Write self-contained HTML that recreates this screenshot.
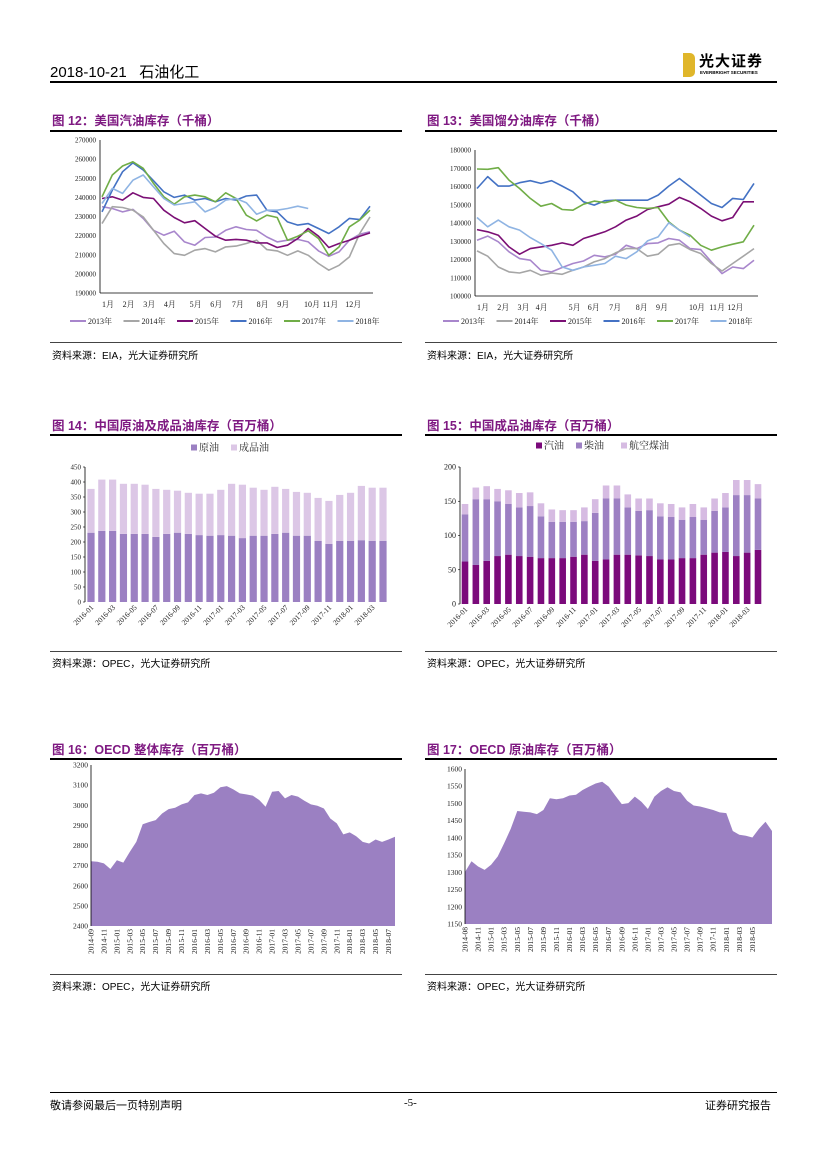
<!DOCTYPE html>
<html><head><meta charset="utf-8">
<style>
html,body{margin:0;padding:0;background:#fff;}
#page{position:relative;width:827px;height:1169px;overflow:hidden;font-family:"Liberation Sans","Noto Sans CJK SC",sans-serif;color:#000;}
.abs{position:absolute;white-space:nowrap;}
.ttl{font-size:12.5px;font-weight:bold;color:#7f1a82;font-family:"Liberation Sans","Noto Sans CJK SC",sans-serif;}
.rule{position:absolute;height:1.5px;background:#000;}
.thin{position:absolute;height:1px;background:#444;}
.src{font-size:10px;}
svg text{font-family:"Liberation Serif","Noto Serif CJK SC",serif;}
</style></head>
<body>
<div id="page">
  <div class="abs" style="left:50px;top:61px;font-size:15px;">2018-10-21&nbsp;&nbsp;&nbsp;石油化工</div>
  <div class="abs" style="left:50px;top:81px;width:727px;height:2px;background:#000;"></div>
  <div class="abs" style="left:683px;top:53px;width:12px;height:24px;background:#e0b62a;border-radius:0 5px 5px 0;"></div>
  <div class="abs" style="left:699px;top:50px;font-size:15px;font-weight:bold;letter-spacing:1px;">光大证券</div>
  <div class="abs" style="left:700px;top:70px;font-size:4.5px;font-weight:bold;">EVERBRIGHT SECURITIES</div>

  <div class="abs ttl" style="left:52px;top:110px;">图 12：美国汽油库存（千桶）</div>
  <div class="rule" style="left:50px;top:130px;width:352px;"></div>
  <div class="abs ttl" style="left:427px;top:110px;">图 13：美国馏分油库存（千桶）</div>
  <div class="rule" style="left:425px;top:130px;width:352px;"></div>
  <div class="thin" style="left:50px;top:342px;width:352px;"></div>
  <div class="thin" style="left:425px;top:342px;width:352px;"></div>
  <div class="abs src" style="left:52px;top:347px;">资料来源：EIA，光大证券研究所</div>
  <div class="abs src" style="left:427px;top:347px;">资料来源：EIA，光大证券研究所</div>

  <div class="abs ttl" style="left:52px;top:415px;">图 14：中国原油及成品油库存（百万桶）</div>
  <div class="rule" style="left:50px;top:434px;width:352px;"></div>
  <div class="abs ttl" style="left:427px;top:415px;">图 15：中国成品油库存（百万桶）</div>
  <div class="rule" style="left:425px;top:434px;width:352px;"></div>
  <div class="thin" style="left:50px;top:651px;width:352px;"></div>
  <div class="thin" style="left:425px;top:651px;width:352px;"></div>
  <div class="abs src" style="left:52px;top:655px;">资料来源：OPEC，光大证券研究所</div>
  <div class="abs src" style="left:427px;top:655px;">资料来源：OPEC，光大证券研究所</div>

  <div class="abs ttl" style="left:52px;top:739px;">图 16：OECD 整体库存（百万桶）</div>
  <div class="rule" style="left:50px;top:758px;width:352px;"></div>
  <div class="abs ttl" style="left:427px;top:739px;">图 17：OECD 原油库存（百万桶）</div>
  <div class="rule" style="left:425px;top:758px;width:352px;"></div>
  <div class="thin" style="left:50px;top:974px;width:352px;"></div>
  <div class="thin" style="left:425px;top:974px;width:352px;"></div>
  <div class="abs src" style="left:52px;top:978px;">资料来源：OPEC，光大证券研究所</div>
  <div class="abs src" style="left:427px;top:978px;">资料来源：OPEC，光大证券研究所</div>

  <div class="abs" style="left:50px;top:1092px;width:727px;height:1px;background:#000;"></div>
  <div class="abs" style="left:50px;top:1097px;font-size:11px;">敬请参阅最后一页特别声明</div>
  <div class="abs" style="left:404px;top:1097px;font-size:11px;font-family:'Liberation Serif',serif;">-5-</div>
  <div class="abs" style="left:705px;top:1097px;font-size:11px;">证券研究报告</div>

  <svg id="charts" width="827" height="1169" style="position:absolute;left:0;top:0;"></svg>
</div>
<script>
const g12Y2013 = [235.1,234.2,232.4,233.7,229,222.8,220.2,222.3,216.7,215,219,219.3,222.8,224.6,223.2,222.8,219.3,216.7,217.6,218,216.7,212,209.2,211.5,217.6,220.7,222];
const g12Y2014 = [226.3,235.1,234.7,233.3,229.8,222.8,215.9,210.6,209.7,212.4,213.2,211.5,214.1,214.5,215.9,217.6,212.7,212,209.7,212,209.7,205.4,201.9,204.5,208.9,221.1,229.8];
const g12Y2015 = [239.4,240.3,238.6,242.4,240,239.4,233.3,229.5,226.7,227.8,223.7,219.7,217.6,218,217.6,216.2,216.2,213.8,215,218.5,223.7,219.7,213.8,215.9,217.6,219.7,221.4];
const g12Y2016 = [232.4,243.8,253.4,258.1,254.3,248.7,242.9,240,241.2,238.6,239.4,237.7,239.4,238.6,240.7,241.2,233.3,232.4,227.2,225.5,226.3,223.7,221.1,224.6,229,228.4,235.4];
const g12Y2017 = [240.3,251.7,256.4,258.6,255.2,247.3,240.3,236.5,240.3,241.2,240.3,237.7,242.4,239.4,230.7,227.7,230.7,229.5,217.6,219.7,222.5,218.5,209.7,214.1,224.6,228.1,233.3];
const g12Y2018 = [236.8,244.7,242.1,249,251.7,245.5,239.4,236,236.8,237.7,232.4,234.7,238.6,239.4,237.2,231.2,233.3,233.3,234.2,235.4,234.2];
const g12Ticks = [190,200,210,220,230,240,250,260,270];
const g12TickLabels = ['190000','200000','210000','220000','230000','240000','250000','260000','270000'];
const g12Months = ['1月','2月','3月','4月','5月','6月','7月','8月','9月','10月','11月','12月'];
const g12MonthIdx = [0,2,4,6,8.5,10.5,12.6,15,17,19.6,21.4,23.6];

const g13Y2013 = [130.6,132.8,129.7,124.2,120.5,119.6,114.1,113.2,115.6,117.8,119.2,122.3,121.4,122.9,127.8,126,128.7,129.1,131.5,130.6,126,125.4,118.7,112.3,115.9,115,119.6];
const g13Y2014 = [124.7,121.8,115.9,113.2,112.6,114.1,111.4,112.6,111.9,114.1,115.9,118.7,120.5,123.6,126,126,121.8,122.9,127.8,128.7,125.4,123.3,117.8,113.7,117.8,121.8,126];
const g13Y2015 = [136.4,135.2,133.3,126.9,122.9,126,126.9,127.8,129.1,127.8,131.5,133.3,135.2,137.9,141.6,143.8,147.4,148.9,150.3,154,151.6,148,143.8,141.2,143,151.6,151.6];
const g13Y2016 = [158.9,165.4,160.2,160.2,162.1,163.2,161.7,163.2,160.2,157.1,151.6,149.8,152.2,152.5,152.5,152.5,152.5,155.3,160.2,164.4,159.9,155.3,150.7,148.5,153.5,152.9,161.7];
const g13Y2017 = [169.6,169.4,170.3,163.5,158.9,153.5,149.2,150.7,147.4,147,150.3,152,151.1,152.5,149.8,148.5,148,148.5,140.6,136.1,133.3,127.8,125.1,126.9,128.4,129.7,138.8];
const g13Y2018 = [143,137.9,141.6,137.9,136.1,132,128.7,125.1,115.9,114.1,115.9,116.8,117.8,121.8,120.5,124.2,130.2,132.4,140.1,136.1,132.4];
const g13Ticks = [100,110,120,130,140,150,160,170,180];
const g13TickLabels = ['100000','110000','120000','130000','140000','150000','160000','170000','180000'];
const g13Months = ['1月','2月','3月','4月','5月','6月','7月','8月','9月','10月','11月','12月'];
const g13MonthIdx = [0,1.9,3.8,5.5,8.6,10.4,12.4,14.9,16.8,19.9,21.8,23.5];
const yearNames = ['2013年','2014年','2015年','2016年','2017年','2018年'];

const f14Months = ['2016-01','2016-02','2016-03','2016-04','2016-05','2016-06','2016-07','2016-08','2016-09','2016-10','2016-11','2016-12','2017-01','2017-02','2017-03','2017-04','2017-05','2017-06','2017-07','2017-08','2017-09','2017-10','2017-11','2017-12','2018-01','2018-02','2018-03','2018-04'];
const f14Crude = [231,237,237,227,227,227,217,227,231,227,223,221,223,221,213,221,221,227,231,221,221,204,194,204,204,206,204,204];
const f14Product = [146,171,171,167,167,164,160,147,140,137,138,140,151,173,178,160,153,157,146,146,143,143,143,153,160,181,177,177];
const f14Ticks = [0,50,100,150,200,250,300,350,400,450];

const f15Months = f14Months.slice();
const f15Gasoline = [62,57,63,70,72,70,69,67,67,67,69,72,63,65,72,72,71,70,65,65,67,67,72,75,76,70,75,79];
const f15Diesel = [69,96,90,80,74,71,74,61,53,53,51,49,70,89,82,69,65,67,63,62,56,60,51,61,65,89,84,75];
const f15Jet = [15,17,19,18,20,21,20,19,18,17,17,20,20,19,19,19,18,17,19,19,18,19,18,18,21,22,22,21];
const f15Ticks = [0,50,100,150,200];

const f16Values = [2722,2719,2711,2683,2727,2715,2768,2818,2906,2917,2926,2959,2981,2988,3004,3014,3051,3059,3051,3062,3089,3095,3079,3059,3054,3048,3026,2993,3067,3071,3034,3051,3043,3022,3004,2998,2984,2934,2910,2855,2865,2846,2818,2810,2830,2818,2830,2843];
const f16Labels = ['2014-09','2014-11','2015-01','2015-03','2015-05','2015-07','2015-09','2015-11','2016-01','2016-03','2016-05','2016-07','2016-09','2016-11','2017-01','2017-03','2017-05','2017-07','2017-09','2017-11','2018-01','2018-03','2018-05','2018-07'];
const f16Ticks = [2400,2500,2600,2700,2800,2900,3000,3100,3200];

const f17Values = [1301,1332,1317,1307,1322,1346,1385,1426,1478,1476,1474,1469,1481,1515,1512,1515,1523,1525,1539,1549,1558,1563,1549,1523,1498,1501,1520,1505,1484,1520,1536,1547,1536,1532,1508,1494,1491,1486,1481,1474,1472,1420,1409,1406,1401,1426,1447,1420];
const f17Labels = ['2014-08','2014-11','2015-01','2015-03','2015-05','2015-07','2015-09','2015-11','2016-01','2016-03','2016-05','2016-07','2016-09','2016-11','2017-01','2017-03','2017-05','2017-07','2017-09','2017-11','2018-01','2018-03','2018-05'];
const f17Ticks = [1150,1200,1250,1300,1350,1400,1450,1500,1550,1600];

const NS='http://www.w3.org/2000/svg';
const svg=document.getElementById('charts');
function mk(tag, attrs, parent){
  const e=document.createElementNS(NS,tag);
  for(const k in attrs) e.setAttribute(k,attrs[k]);
  (parent||svg).appendChild(e);
  return e;
}
function scale(d0,d1,r0,r1){return v=>r0+(v-d0)*(r1-r0)/(d1-d0);}

function lineChart(id, box, ticks, tickLabels, months, monthIdx, series, colors, legendX){
  const g=mk('g',{});
  
  
  const y=scale(ticks[0],ticks[ticks.length-1],box.yb,box.yt);
  const x=scale(0,26,box.px0,box.px1);
  const ax=mk('line',{x1:box.ax,y1:box.yt,x2:box.ax,y2:box.yb,stroke:'#000','stroke-width':0.8},g);
  
  
  const bx=mk('line',{x1:box.ax,y1:box.yb,x2:box.xr,y2:box.yb,stroke:'#000','stroke-width':0.8},g);
  
  
  ticks.forEach((t,i)=>{
    const tl=mk('text',{x:box.ax-4,y:y(t)+2.5,'font-size':7,'text-anchor':'end',fill:'#222'},g);
    tl.textContent=tickLabels[i];
    
    
  });
  months.forEach((m,i)=>{
    const ml=mk('text',{x:x(monthIdx[i]),y:box.yb+14,'font-size':8,'text-anchor':'start',fill:'#222'},g);
    ml.textContent=m;
    
    
  });
  series.forEach((s,si)=>{
    const pts=s.map((v,i)=>x(i).toFixed(1)+','+y(v).toFixed(1)).join(' ');
    const pl=mk('polyline',{points:pts,fill:'none',stroke:colors[si],'stroke-width':1.6,'stroke-linejoin':'round'},g);
    
    
    const lx=legendX+si*53.5;
    const ll=mk('line',{x1:lx,y1:box.leg,x2:lx+16,y2:box.leg,stroke:colors[si],'stroke-width':2},g);
    
    
    const lt=mk('text',{x:lx+18,y:box.leg+3,'font-size':8,fill:'#222'},g);
    lt.textContent=yearNames[si];
    
    
  });
}
const lineColors=['#a886cc','#a6a6a6','#7b0f75','#4472c4','#70ad47','#8fb4e3'];
lineChart('fig12',{ax:100,xr:373,yt:140,yb:293,px0:102,px1:370,leg:321},g12Ticks,g12TickLabels,g12Months,g12MonthIdx,[g12Y2013,g12Y2014,g12Y2015,g12Y2016,g12Y2017,g12Y2018],lineColors,70);
lineChart('fig13',{ax:475,xr:758,yt:150,yb:296,px0:477,px1:754,leg:321},g13Ticks,g13TickLabels,g13Months,g13MonthIdx,[g13Y2013,g13Y2014,g13Y2015,g13Y2016,g13Y2017,g13Y2018],lineColors,443);

function barChart(id, box, ticks, cats, stacks, colors, names, legendXs){
  const g=mk('g',{});
  
  
  const y=scale(ticks[0],ticks[ticks.length-1],box.yb,box.yt);
  const x=scale(0,cats.length-1,box.c0,box.c1);
  const ax=mk('line',{x1:box.ax,y1:box.yt,x2:box.ax,y2:box.yb,stroke:'#000','stroke-width':0.8},g);
  
  
  ticks.forEach(t=>{
    const tk=mk('line',{x1:box.ax-2,y1:y(t),x2:box.ax,y2:y(t),stroke:'#000','stroke-width':0.6},g);
    
    
    const tl=mk('text',{x:box.ax-4,y:y(t)+2.5,'font-size':box.fs,'text-anchor':'end',fill:'#222'},g);
    tl.textContent=String(t);
    
    
  });
  cats.forEach((c,i)=>{
    let base=0;
    stacks.forEach((s,si)=>{
      const r=mk('rect',{x:x(i)-box.bw/2,y:y(base+s[i]),width:box.bw,height:y(base)-y(base+s[i]),fill:colors[si]},g);
      
      
      base+=s[i];
    });
    if(i%2===0){
      const lx=x(i)+3, ly=box.yb+6;
      const t=mk('text',{x:lx,y:ly,'font-size':7.5,'text-anchor':'end',fill:'#222',transform:'rotate(-45 '+lx+' '+ly+')'},g);
      t.textContent=c;
      
      
    }
  });
  names.forEach((n,si)=>{
    const sq=mk('rect',{x:legendXs[si],y:box.leg-3.5,width:6,height:6,fill:colors[si]},g);
    
    
    const lt=mk('text',{x:legendXs[si]+8,y:box.leg+3,'font-size':10,fill:'#222'},g);
    lt.textContent=n;
    
    
  });
}
barChart('fig14',{ax:85,yt:467,yb:602,c0:91,c1:383,bw:7.2,fs:7,leg:448},f14Ticks,f14Months,[f14Crude,f14Product],['#9b80c2','#dcc7e6'],['原油','成品油'],[191,231]);
barChart('fig15',{ax:460,yt:467,yb:604,c0:465,c1:758,bw:6.6,fs:8,leg:446},f15Ticks,f15Months,[f15Gasoline,f15Diesel,f15Jet],['#7b0a7b','#9d80c3','#d6bbe2'],['汽油','柴油','航空煤油'],[536,576,621]);

function areaChart(id, box, ticks, values, labels){
  const g=mk('g',{});
  
  
  const y=scale(ticks[0],ticks[ticks.length-1],box.yb,box.yt);
  const x=scale(0,values.length-1,box.px0,box.px1);
  let d='M'+x(0)+','+box.yb;
  values.forEach((v,i)=>{d+=' L'+x(i).toFixed(1)+','+y(v).toFixed(1);});
  d+=' L'+x(values.length-1)+','+box.yb+' Z';
  const a=mk('path',{d:d,fill:'#9b80c2'},g);
  
  
  const ax=mk('line',{x1:box.px0,y1:box.yt,x2:box.px0,y2:box.yb,stroke:'#000','stroke-width':0.8},g);
  
  
  ticks.forEach(t=>{
    const tl=mk('text',{x:box.px0-3,y:y(t)+2.5,'font-size':7.5,'text-anchor':'end',fill:'#222'},g);
    tl.textContent=String(t);
    
    
  });
  labels.forEach((l,i)=>{
    const lx=x(i*2)+2.5, ly=box.yb+3;
    const t=mk('text',{x:lx,y:ly,'font-size':7.5,'text-anchor':'end',fill:'#222',transform:'rotate(-90 '+lx+' '+ly+')'},g);
    t.textContent=l;
    
    
  });
}
areaChart('fig16',{px0:91,px1:395,yt:765,yb:926},f16Ticks,f16Values,f16Labels);
areaChart('fig17',{px0:465,px1:772,yt:769,yb:924},f17Ticks,f17Values,f17Labels);
</script>
</body></html>
